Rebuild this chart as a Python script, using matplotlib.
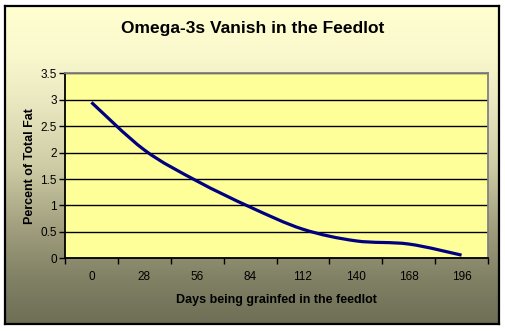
import numpy as np
import matplotlib
matplotlib.use("Agg")
import matplotlib.pyplot as plt
from matplotlib.path import Path
from matplotlib.patches import PathPatch
from matplotlib.colors import LinearSegmentedColormap

# data
days = ["0", "28", "56", "84", "112", "140", "168", "196"]
omega3 = [2.95, 2.05, 1.46, 0.97, 0.55, 0.33, 0.27, 0.06]
y_ticks = [0, 0.5, 1, 1.5, 2, 2.5, 3, 3.5]
y_labels = ["0", "0.5", "1", "1.5", "2", "2.5", "3", "3.5"]

plt.rcParams['font.family'] = ['Liberation Sans', 'DejaVu Sans']

fig = plt.figure(figsize=(5.05, 3.31), dpi=100)
fig.patch.set_facecolor("white")

# gradient chart-area background with black frame
bg = fig.add_axes([5 / 505, 7 / 331, 494 / 505, 318 / 331], zorder=-5)
stops = [(0.0, (255, 255, 208)), (0.15, (250, 248, 205)), (0.3, (234, 232, 192)),
         (0.5, (206, 205, 166)), (0.7, (160, 158, 125)), (0.85, (130, 130, 102)),
         (1.0, (110, 110, 86))]
cmap = LinearSegmentedColormap.from_list(
    "bg", [(p, tuple(c / 255 for c in col)) for p, col in stops])
bg.imshow(np.linspace(0, 1, 256).reshape(-1, 1), aspect="auto", cmap=cmap,
          extent=[0, 1, 0, 1])
bg.set_xticks([])
bg.set_yticks([])
for s in bg.spines.values():
    s.set_color("black")
    s.set_linewidth(1.6)

ax = fig.add_axes([65 / 505, 1 - 258.3 / 331, 423 / 505, 185 / 331])
ax.set_facecolor("#FFFF99")

x = np.arange(len(days))
y = np.array(omega3)

# smoothed line like the spreadsheet's (cubic bezier through the points)
pts = np.column_stack([x, y])
verts = [pts[0]]
codes = [Path.MOVETO]
for i in range(len(pts) - 1):
    p0 = pts[i - 1] if i > 0 else pts[i]
    p1 = pts[i]
    p2 = pts[i + 1]
    p3 = pts[i + 2] if i + 2 < len(pts) else pts[i + 1]
    verts += [p1 + (p2 - p0) / 6, p2 - (p3 - p1) / 6, p2]
    codes += [Path.CURVE4] * 3
ax.add_patch(PathPatch(Path(verts, codes), facecolor="none", edgecolor="#000080",
                       lw=2.3, zorder=3, capstyle="butt"))

ax.set_xlim(-0.5, len(days) - 0.5)
ax.set_ylim(0, 3.5)
ax.set_yticks(y_ticks)
ax.set_yticklabels(y_labels, fontsize=8.5)
ax.yaxis.grid(True, color="black", lw=1)
ax.set_axisbelow(True)

ax.set_xticks(np.arange(len(days) + 1) - 0.5)
ax.set_xticklabels([])
ax.set_xticks(x, minor=True)
ax.set_xticklabels(days, minor=True, fontsize=8.5)
ax.tick_params(axis="x", which="minor", length=0, pad=9)
ax.tick_params(axis="both", which="major", length=4, width=1, direction="out",
               color="black")
ax.tick_params(axis="y", pad=2)

ax.spines["left"].set_color("black")
ax.spines["bottom"].set_color("black")
ax.spines["top"].set_color("#808080")
ax.spines["right"].set_color("#808080")
for s in ax.spines.values():
    s.set_linewidth(1.3)

ax.set_xlabel("Days being grainfed in the feedlot", fontsize=9, fontweight="bold",
              labelpad=8)
ax.set_ylabel("Percent of Total Fat", fontsize=9, fontweight="bold", labelpad=3)
fig.text(0.5, 1 - 29 / 331, "Omega-3s Vanish in the Feedlot", ha="center",
         va="center", fontsize=12.5, fontweight="bold")

fig.savefig("out.png", dpi=100)
